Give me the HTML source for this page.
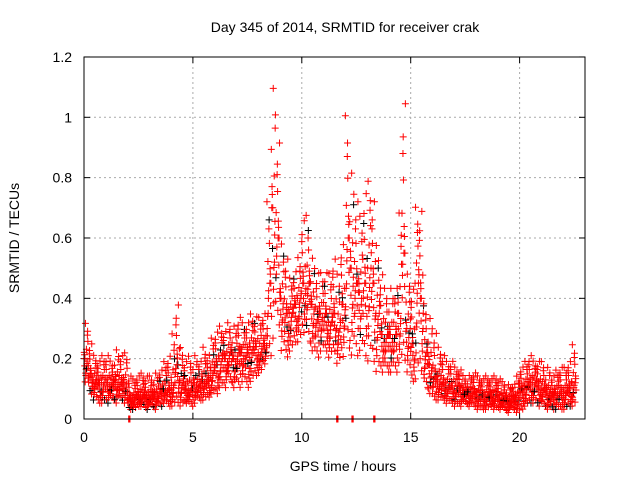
<!DOCTYPE html>
<html><head><meta charset="utf-8"><style>
body{margin:0;background:#fff;}
svg{display:block;font-family:"Liberation Sans",sans-serif;}
</style></head><body>
<svg id="chart" width="640" height="480">
<text x="345" y="32" font-size="14" text-anchor="middle">Day 345 of 2014, SRMTID for receiver crak</text>
<text x="343" y="471" font-size="14" text-anchor="middle">GPS time / hours</text>
<text transform="translate(19,238) rotate(-90)" font-size="14" text-anchor="middle">SRMTID / TECUs</text>
<g id="grid"></g><g id="ticks"></g><g id="marks"></g>
<rect x="84" y="57" width="501" height="362" fill="none" stroke="#000"/>
</svg>
<script>
const xTicks=[0,5,10,15,20];
const yTicks=[0,0.2,0.4,0.6,0.8,1,1.2];
const yTickLabels=["0","0.2","0.4","0.6","0.8","1","1.2"];
const binStart=0, binStep=0.2;
const lo=[.12,.08,.06,.05,.05,.05,.06,.05,.06,.05,.03,.03,.04,.04,.03,.04,.03,.04,.05,.04,.04,.05,.04,.05,.04,.05,.06,.06,.07,.08,.08,.1,.1,.12,.1,.1,.12,.1,.12,.14,.15,.18,.2,.25,.3,.22,.2,.22,.25,.25,.28,.25,.22,.2,.22,.22,.2,.22,.18,.2,.22,.2,.2,.22,.2,.18,.18,.15,.15,.15,.15,.15,.18,.18,.15,.12,.12,.15,.1,.08,.06,.06,.06,.05,.05,.04,.04,.05,.04,.04,.03,.03,.03,.04,.03,.03,.03,.02,.03,.02,.03,.04,.05,.05,.04,.04,.03,.03,.03,.03,.03,.04,.04];
const mid=[.2,.15,.13,.12,.12,.12,.12,.13,.12,.12,.07,.07,.08,.08,.07,.08,.08,.09,.1,.1,.12,.18,.12,.1,.1,.12,.11,.13,.13,.16,.18,.2,.2,.22,.2,.22,.22,.22,.24,.24,.22,.25,.45,.7,.6,.4,.35,.35,.38,.4,.45,.45,.38,.33,.35,.35,.32,.35,.3,.38,.6,.5,.45,.42,.45,.5,.45,.35,.28,.28,.28,.28,.35,.55,.3,.25,.45,.4,.22,.18,.14,.13,.12,.11,.11,.1,.1,.09,.09,.09,.08,.08,.08,.08,.08,.07,.07,.06,.07,.07,.1,.11,.12,.12,.11,.1,.09,.08,.09,.09,.09,.1,.12];
const hi=[.33,.26,.22,.2,.22,.22,.2,.24,.22,.23,.15,.14,.15,.16,.15,.15,.16,.17,.2,.22,.3,.4,.25,.2,.22,.22,.2,.25,.22,.28,.3,.32,.3,.33,.32,.35,.33,.33,.36,.35,.35,.36,.75,1.14,.95,.6,.55,.48,.5,.55,.68,.7,.55,.5,.5,.5,.5,.55,.5,.6,1.05,.85,.75,.7,.78,.82,.75,.6,.5,.45,.45,.45,.72,1.1,.5,.45,.73,.72,.4,.35,.3,.25,.22,.2,.2,.18,.17,.15,.15,.16,.15,.14,.15,.14,.15,.14,.13,.12,.12,.15,.18,.2,.22,.2,.2,.2,.18,.15,.17,.18,.18,.2,.26];
const zeroTimes=[2.05,11.6,12.3,13.3];
const X=v=>84+v*21.78, Y=v=>419-v*301.7;
const ns="http://www.w3.org/2000/svg";
const grid=document.getElementById('grid'),ticks=document.getElementById('ticks'),marks=document.getElementById('marks');
function line(p,x1,y1,x2,y2,st,da){const l=document.createElementNS(ns,'line');l.setAttribute('x1',x1);l.setAttribute('y1',y1);l.setAttribute('x2',x2);l.setAttribute('y2',y2);l.setAttribute('stroke',st);if(da)l.setAttribute('stroke-dasharray',da);p.appendChild(l);return l;}
function txt(p,x,y,s,a){const t=document.createElementNS(ns,'text');t.setAttribute('x',x);t.setAttribute('y',y);t.setAttribute('font-size','14');t.setAttribute('text-anchor',a);t.textContent=s;p.appendChild(t);return t;}
xTicks.forEach(v=>{const x=X(v);
 const g=line(grid,x,57,x,419,'#aaa','2,3');
 
 
 line(ticks,x,419,x,413,'#000');line(ticks,x,57,x,63,'#000');
 const t=txt(ticks,x,442,String(v),'middle');
 
 });
yTicks.forEach((v,i)=>{const y=Y(v);
 const g=line(grid,84,y,585,y,'#aaa','2,3');
 
 
 line(ticks,84,y,90,y,'#000');line(ticks,585,y,579,y,'#000');
 const t=txt(ticks,72,y+5,yTickLabels[i],'end');
 
 });
function plus(t,v,c){const x=X(t),y=Y(v);const p=document.createElementNS(ns,'path');
 p.setAttribute('d',`M${x-3.5} ${y}h7M${x} ${y-3.5}v7`);p.setAttribute('stroke',c);p.setAttribute('fill','none');
 
 
 marks.appendChild(p);}
const fr=[0.5,0.2,0.8,0.35,0.62,0.1,0.95,0.45,0.55,0.28,0.72,0.02,0.4,0.58,0.15,0.85,0.5,0.3];
for(let i=0;i<mid.length;i++){const t0=binStart+i*binStep;
 const a=lo[i],m=mid[i],h=hi[i];const n=fr.length;
 for(let k=0;k<n;k++){const f=fr[(k+i*7)%n];
  const v=f<0.5?a+(m-a)*f*2:m+(h-m)*(f-0.5)*2;
  const tt=t0+((k*7+i*3)%n)/n*binStep;
  plus(tt,v,((k+i)%17==0&&f<0.9)?'#000':'#f00');}}
zeroTimes.forEach(t=>{for(let k=0;k<3;k++)plus(t+k*0.03,0,'#f00');});
</script>
</body></html>
